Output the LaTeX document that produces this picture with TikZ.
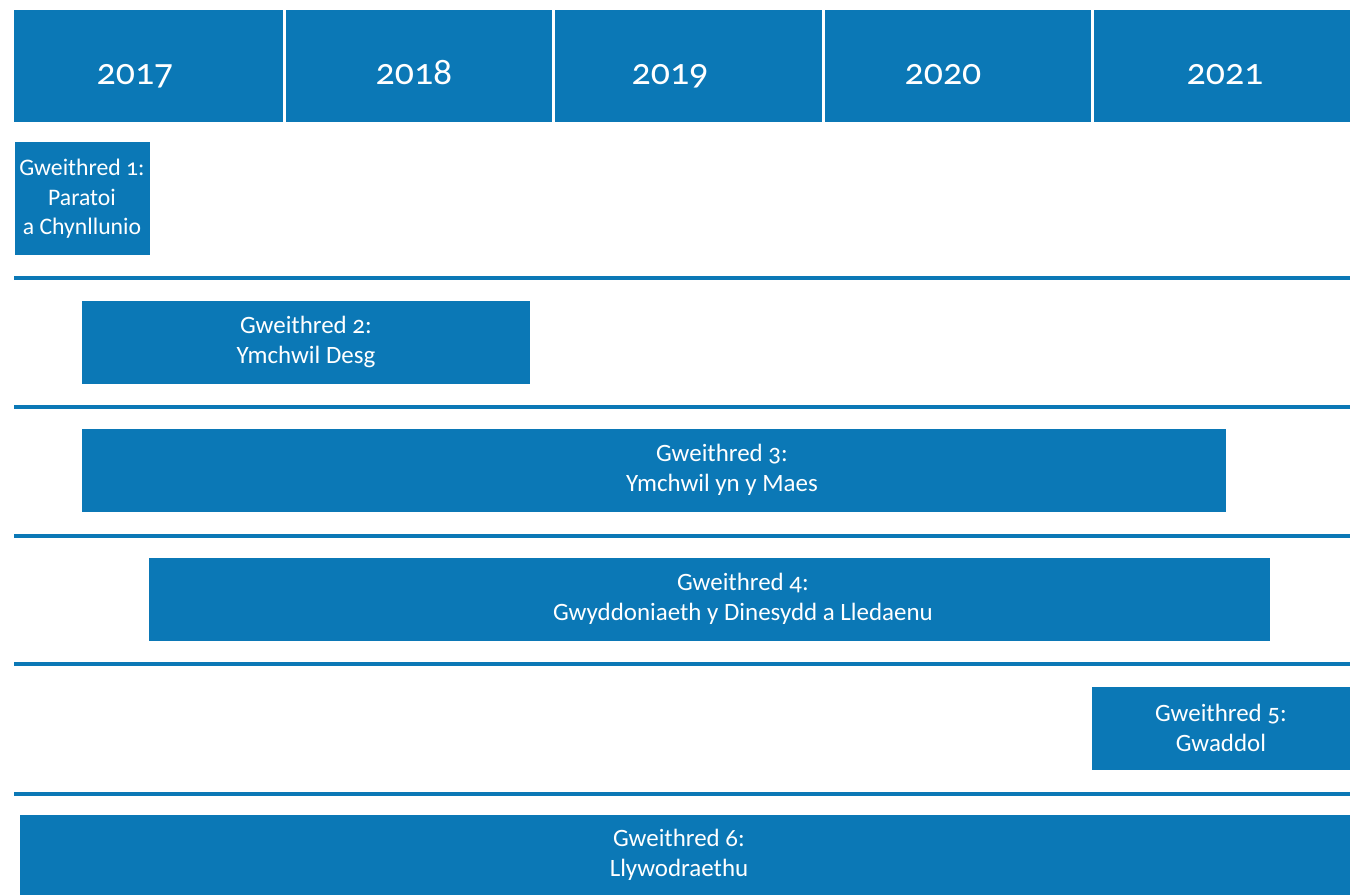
\documentclass[tikz,border=0pt]{standalone}
\usepackage{fontspec}
\setmainfont[Numbers=OldStyle]{Carlito}
\definecolor{barblue}{HTML}{0B78B6}
\tikzset{%
	yearcell/.style = {fill=barblue, anchor=north west, minimum height=2.24cm, inner sep=0}, % Header cell
	task/.style     = {fill=barblue, anchor=north west, minimum height=1.66cm, inner sep=0}, % Task bar
	yeartext/.style = {text=white, anchor=base, font=\fontsize{21.5}{26}\selectfont},
	tasktext/.style = {text=white, align=center, font=\fontsize{14.2}{16.8}\selectfont},
	rowline/.style  = {draw=barblue, line width=0.08cm}
}

\begin{document}
\begin{tikzpicture}[x=0.02cm, y=-0.02cm]
	\useasboundingbox (0,0) rectangle (1350,895);

	% Header with the years
	\node [yearcell, minimum width=5.38cm] (c17) at (14,10) {};
	\node [yearcell, minimum width=5.32cm] (c18) at (286,10) {};
	\node [yearcell, minimum width=5.34cm] (c19) at (555,10) {};
	\node [yearcell, minimum width=5.32cm] (c20) at (825,10) {};
	\node [yearcell, minimum width=5.12cm] (c21) at (1094,10) {};
	\node [yeartext] (t17) at (135,85) {2017};
	\node [yeartext] (t18) at (414,85) {2018};
	\node [yeartext] (t19) at (670,85) {2019};
	\node [yeartext] (t20) at (943,85) {2020};
	\node [yeartext] (t21) at (1225,85) {2021};

	% Task bars
	\node [task, minimum width=2.70cm, minimum height=2.26cm] (g1) at (15,142) {};
	\node [task, minimum width=8.96cm] (g2) at (82,301) {};
	\node [task, minimum width=22.88cm] (g3) at (82,429) {};
	\node [task, minimum width=22.42cm] (g4) at (149,558) {};
	\node [task, minimum width=5.16cm] (g5) at (1092,687) {};
	\node [task, minimum width=26.6cm, minimum height=1.6cm] (g6) at (20,815) {};

	\node [tasktext, font=\fontsize{13.5}{16.8}\selectfont] (l1) at (82,199) {Gweithred 1:\\Paratoi\\a Chynllunio};
	\node [tasktext] (l2) at (306,342) {Gweithred 2:\\Ymchwil Desg};
	\node [tasktext] (l3) at (722,470) {Gweithred 3:\\Ymchwil yn y Maes};
	\node [tasktext] (l4) at (743,599) {Gweithred 4:\\Gwyddoniaeth y Dinesydd a Lledaenu};
	\node [tasktext] (l5) at (1221,728) {Gweithred 5:\\Gwaddol};
	\node [tasktext] (l6) at (679,855) {Gweithred 6:\\Llywodraethu};

	% Lines between the rows
	\foreach \y in {278,407,536,664,794}
		\draw [rowline] (14,\y) -- (1350,\y);
\end{tikzpicture}
\end{document}
